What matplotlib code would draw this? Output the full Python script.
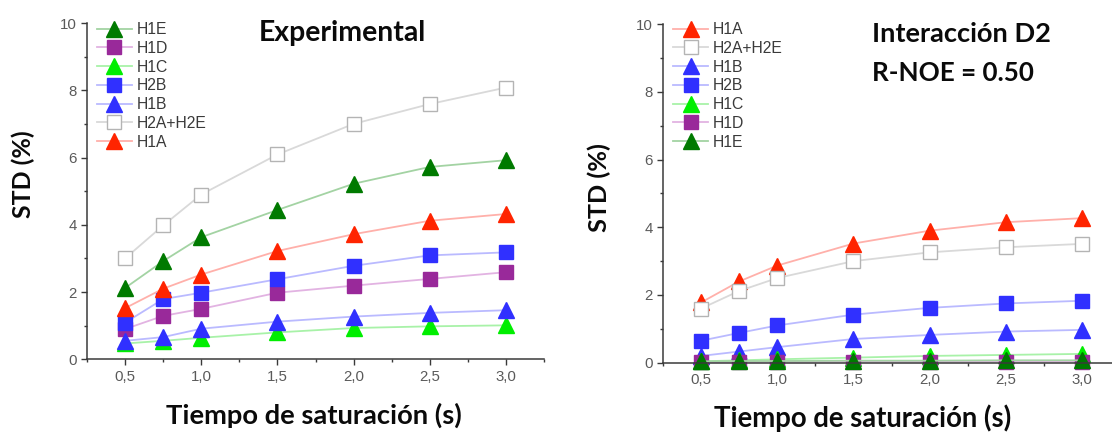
import matplotlib
matplotlib.use("Agg")
import matplotlib.pyplot as plt
from matplotlib.ticker import MultipleLocator, FixedLocator, FixedFormatter

# ---------------- data ----------------
x_time = [0.5, 0.75, 1.0, 1.5, 2.0, 2.5, 3.0]
x_ticks = [0.5, 1.0, 1.5, 2.0, 2.5, 3.0]
x_tick_labels = ["0,5", "1,0", "1,5", "2,0", "2,5", "3,0"]
y_ticks = [0, 2, 4, 6, 8, 10]
y_tick_labels = ["0", "2", "4", "6", "8", "10"]

# Panel 1: Experimental
exp_H1E = [2.12, 2.92, 3.63, 4.44, 5.22, 5.72, 5.92]
exp_H1D = [0.9, 1.29, 1.5, 1.98, 2.19, 2.39, 2.59]
exp_H1C = [0.47, 0.55, 0.64, 0.8, 0.93, 0.98, 1.01]
exp_H2B = [1.09, 1.79, 1.98, 2.38, 2.78, 3.09, 3.18]
exp_H1B = [0.55, 0.66, 0.91, 1.12, 1.27, 1.38, 1.46]
exp_H2A_H2E = [3.0, 3.98, 4.9, 6.09, 7.0, 7.59, 8.08]
exp_H1A = [1.52, 2.1, 2.52, 3.22, 3.72, 4.12, 4.32]

# Panel 2: Interacción D2
d2_H1A = [1.78, 2.4, 2.87, 3.52, 3.9, 4.15, 4.27]
d2_H2A_H2E = [1.6, 2.12, 2.5, 3.0, 3.26, 3.41, 3.51]
d2_H1B = [0.2, 0.33, 0.46, 0.7, 0.82, 0.92, 0.97]
d2_H2B = [0.65, 0.88, 1.1, 1.42, 1.62, 1.75, 1.83]
d2_H1C = [0.04, 0.07, 0.1, 0.15, 0.2, 0.23, 0.26]
d2_H1D = [0.02, 0.02, 0.03, 0.03, 0.03, 0.03, 0.03]
d2_H1E = [0.04, 0.05, 0.05, 0.06, 0.06, 0.07, 0.07]

# ---------------- styles ----------------
STY = {
    "H1E": dict(marker="^", mfc="#007a00", mec="#007a00", lc="#a3d3a3", ms=12),
    "H1D": dict(marker="s", mfc="#99299a", mec="#99299a", lc="#e2b3e2", ms=10),
    "H1C": dict(marker="^", mfc="#00ee00", mec="#00ee00", lc="#a8f2a8", ms=12),
    "H2B": dict(marker="s", mfc="#3030ff", mec="#3030ff", lc="#babaff", ms=10),
    "H1B": dict(marker="^", mfc="#3030ff", mec="#3030ff", lc="#babaff", ms=12),
    "H2A+H2E": dict(marker="s", mfc="white", mec="#b4b4b4", lc="#d9d9d9", ms=10),
    "H1A": dict(marker="^", mfc="#ff2400", mec="#ff2400", lc="#ffb0aa", ms=12),
}

W, H = 1112, 432
fig = plt.figure(figsize=(W / 100, H / 100), dpi=100)


def px_ax(l, t, r, b):
    return fig.add_axes([l / W, 1 - b / H, (r - l) / W, (b - t) / H])


ax1 = px_ax(87, 23, 544, 359.3)
ax2 = px_ax(663, 24.2, 1120, 362.7)

TICKFONT = dict(family="Liberation Sans", size=10.8, color="#5a5a5a")


def style_axes(ax):
    ax.set_xlim(0.25, 3.25)
    ax.set_ylim(0, 10)
    for s in ("top", "right"):
        ax.spines[s].set_visible(False)
    for s in ("left", "bottom"):
        ax.spines[s].set_color("#3a3a3a")
        ax.spines[s].set_linewidth(1.1)
    ax.xaxis.set_major_locator(FixedLocator(x_ticks))
    ax.xaxis.set_major_formatter(FixedFormatter(x_tick_labels))
    ax.xaxis.set_minor_locator(MultipleLocator(0.25))
    ax.yaxis.set_major_locator(FixedLocator(y_ticks))
    ax.yaxis.set_major_formatter(FixedFormatter(y_tick_labels))
    ax.yaxis.set_minor_locator(MultipleLocator(1))
    ax.tick_params(which="major", direction="out", length=4.5, width=1.0,
                   color="#3a3a3a", pad=3)
    ax.tick_params(which="minor", direction="out", length=2.5, width=1.0,
                   color="#3a3a3a")
    for lab in ax.get_xticklabels() + ax.get_yticklabels():
        lab.set_fontfamily(TICKFONT["family"])
        lab.set_fontsize(TICKFONT["size"])
        lab.set_color(TICKFONT["color"])
    ax.set_facecolor("none")


def plot_series(ax, name, vals):
    s = STY[name]
    ln, = ax.plot(x_time, vals, color=s["lc"], lw=1.3, marker=s["marker"],
                  ms=s["ms"], mfc=s["mfc"], mec=s["mec"], mew=1.0,
                  clip_on=False, label=name)
    return ln


series1 = [("H1E", exp_H1E), ("H1D", exp_H1D), ("H1C", exp_H1C),
           ("H2B", exp_H2B), ("H1B", exp_H1B), ("H2A+H2E", exp_H2A_H2E),
           ("H1A", exp_H1A)]
series2 = [("H1A", d2_H1A), ("H2A+H2E", d2_H2A_H2E), ("H1B", d2_H1B),
           ("H2B", d2_H2B), ("H1C", d2_H1C), ("H1D", d2_H1D),
           ("H1E", d2_H1E)]

h1 = [plot_series(ax1, n, v) for n, v in series1]
h2 = [plot_series(ax2, n, v) for n, v in series2]
style_axes(ax1)
style_axes(ax2)

LEGFONT = dict(family="Liberation Sans", size=11.3)


def add_legend(ax, handles, left_px, top_px):
    leg = ax.legend(handles=handles, loc="upper left",
                    bbox_to_anchor=(left_px / W, 1 - top_px / H),
                    bbox_transform=fig.transFigure, frameon=False,
                    borderpad=0, borderaxespad=0, handlelength=2.25,
                    handletextpad=0.3, labelspacing=0.24,
                    prop=LEGFONT, numpoints=1)
    for t in leg.get_texts():
        t.set_color("#3a3a3a")
    leg.set_zorder(5)
    return leg


add_legend(ax1, h1, 96.5, 22)
add_legend(ax2, h2, 673, 22)

fig.canvas.draw()
renderer = fig.canvas.get_renderer()


def fit_text(x_px, y_px, s, target, dim="w", **kw):
    t = fig.text(x_px / W, 1 - y_px / H, s, **kw)
    bb = t.get_window_extent(renderer)
    cur = bb.width if dim == "w" else bb.height
    t.set_fontsize(t.get_fontsize() * target / cur)
    return t


TF = dict(family="Lato", weight="bold", color="#0a0a0a", size=16)

# titles (baseline positions)
fit_text(259, 40.7, "Experimental", 168, ha="left", va="baseline", **TF)
fit_text(871.7, 41.7, "Interacción D2", 180, ha="left", va="baseline", **TF)
fit_text(871.7, 80.7, "R-NOE = 0.50", 161, ha="left", va="baseline", **TF)

# x labels
fit_text(314, 423.5, "Tiempo de saturación (s)", 297, ha="center",
         va="baseline", **TF)
fit_text(862.5, 427, "Tiempo de saturación (s)", 299, ha="center",
         va="baseline", **TF)

# y labels
fit_text(23, 174, "STD (%)", 88, dim="h", ha="center", va="center",
         rotation=90, **TF)
fit_text(599.5, 187.5, "STD (%)", 89, dim="h", ha="center", va="center",
         rotation=90, **TF)

fig.savefig("out.png", dpi=100)
